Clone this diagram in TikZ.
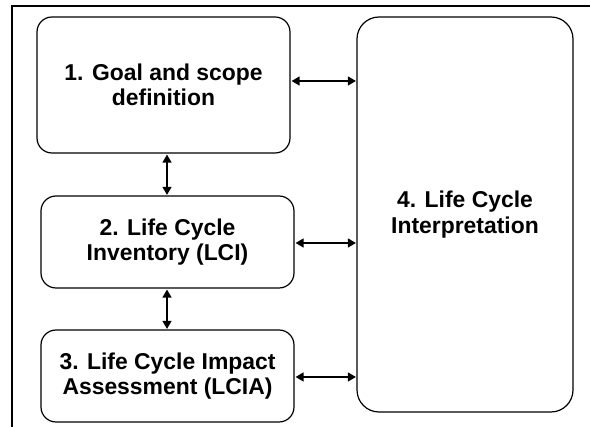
\documentclass[tikz,border=0pt]{standalone}
\usepackage{fontspec}
\setmainfont{Liberation Sans}
\usetikzlibrary{arrows.meta}
\begin{document}
\begin{tikzpicture}[x=1pt,y=-1pt,
  stage/.style={draw=black,line width=1.2pt,rounded corners=15pt,align=center,
    font=\fontsize{22.9}{25.5}\selectfont\bfseries,inner sep=0pt},
  link/.style={line width=1.4pt,{Triangle[length=8pt,width=9pt]}-{Triangle[length=8pt,width=9pt]},shorten <=1pt,shorten >=0.5pt}]
\useasboundingbox (0,0) rectangle (590,427);
\draw[line width=1.8pt] (12,440) -- (12,6) -- (600,6);
\node[stage,minimum width=253pt,minimum height=136pt] (g) at (163.5,85) {1. Goal and scope\\definition};
\node[stage,minimum width=253pt,minimum height=92pt] (i) at (167.5,242) {2. Life Cycle\\Inventory (LCI)};
\node[stage,minimum width=253pt,minimum height=92pt] (a) at (167.5,376) {3. Life Cycle Impact\\Assessment (LCIA)};
\node[stage,rounded corners=22pt,minimum width=216pt,minimum height=395pt] (p) at (465,214.5) {4. Life Cycle\\Interpretation};
\draw[link] (g.east |- 0,81) -- (p.west |- 0,81);
\draw[link] (i.east |- 0,243) -- (p.west |- 0,243);
\draw[link] (a.east |- 0,377) -- (p.west |- 0,377);
\draw[link] (g.south -| 167,0) -- (i.north -| 167,0);
\draw[link] (i.south -| 167,0) -- (a.north -| 167,0);
\end{tikzpicture}
\end{document}
